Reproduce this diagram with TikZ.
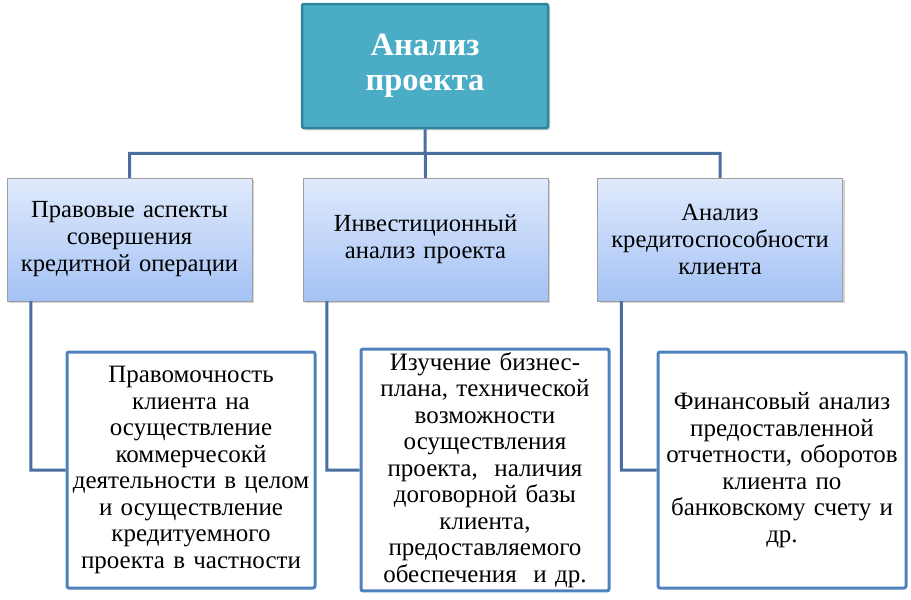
\documentclass[tikz,border=0pt]{standalone}
\usepackage{fontspec}
\setmainfont{Liberation Serif}
\usetikzlibrary{positioning,shadows}
\definecolor{headfill}{RGB}{75,172,198}
\definecolor{headline}{RGB}{49,133,155}
\definecolor{linkblue}{RGB}{74,111,160}
\definecolor{boxline}{RGB}{79,129,189}
\definecolor{midtop}{RGB}{224,234,252}
\definecolor{midbot}{RGB}{164,194,245}

\begin{document}
\begin{tikzpicture}[x=1pt,y=-1pt,semithick]
	\tikzset{head/.style={draw=headline, line width=2.5pt, fill=headfill, rounded corners=1.5pt,
			minimum width=246pt, minimum height=124pt, text width=230pt, inner xsep=2pt, align=center, text=white,
			font=\fontsize{32.5}{35}\selectfont\bfseries, drop shadow={opacity=0.3}},
		aspect/.style={draw=gray!75, thin, top color=midtop, bottom color=midbot,
			minimum width=245pt, minimum height=123pt, text width=238pt, inner xsep=2pt, align=center,
			font=\fontsize{24.6}{27}\selectfont, drop shadow={opacity=0.35}},
		detail/.style={draw=boxline, line width=3pt, fill=white, rounded corners=2pt,
			minimum width=248pt, minimum height=236pt, text width=244pt, inner xsep=0pt, align=center,
			font=\fontsize{25}{26.5}\selectfont},
		link/.style={draw=linkblue, line width=3pt}}
	\useasboundingbox (0,0) rectangle (911,600);
	\node[head] (top) at (425,66) {Анализ\\проекта};
	\node[aspect] (law) at (129.5,239.5) {Правовые аспекты\\совершения\\кредитной операции};
	\node[aspect] (invest) at (425.5,239.5) {Инвестиционный\\анализ проекта};
	\node[aspect] (credit) at (720,239.5) {Анализ\\кредитоспособности\\клиента};
	\node[detail] (lawd) at (191,470) {Правомочность\\клиента на\\осуществление\\коммерчесокй\\деятельности в целом\\и осуществление\\кредитуемного\\проекта в частности};
	\node[detail] (investd) at (485,470) {Изучение бизнес-\\плана, технической\\возможности\\осуществления\\проекта,~ наличия\\договорной базы\\клиента,\\предоставляемого\\обеспечения~ и др.};
	\node[detail] (creditd) at (782,470) {Финансовый анализ\\предоставленной\\отчетности, оборотов\\клиента по\\банковскому счету и\\др.};
	\path[link]
		(top.south) -- ++(0,24) -| (law.north)
		(top.south) -- ++(0,24) -| (credit.north)
		(top.south) -- (invest.north)
		([xshift=24pt]law.south west) |- (lawd.west)
		([xshift=24pt]invest.south west) |- (investd.west)
		([xshift=24pt]credit.south west) |- (creditd.west);
\end{tikzpicture}
\end{document}
